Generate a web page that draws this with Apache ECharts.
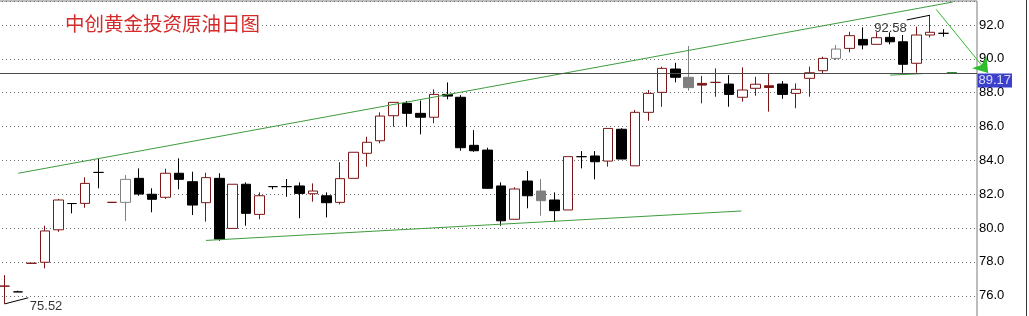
<!DOCTYPE html>
<html><head><meta charset="utf-8">
<script src="https://cdn.jsdelivr.net/npm/echarts/dist/echarts.min.js"></script>
<style>html,body{margin:0;padding:0;background:#fff;}#c{width:1029px;height:316px;}</style>
</head><body><div id="c"></div>
<script>
// ---- data ----
const categories = Array.from({length: 73}, (_, i) => 'D' + (i + 1));
const opens  = [76.57,76.23,77.92,77.98,79.90,81.45,81.46,83.29,81.52,81.52,
                82.94,82.00,81.82,83.24,82.74,81.50,82.94,79.98,82.59,80.81,
                82.45,82.45,82.49,82.03,81.91,81.52,82.94,84.42,85.16,86.64,
                87.37,86.78,86.55,87.90,87.73,84.89,84.61,82.49,80.52,82.78,
                82.19,81.66,81.07,84.22,84.26,83.96,85.84,83.68,86.84,88.02,
                89.40,88.91,88.55,88.61,88.51,87.73,88.26,88.41,88.51,87.96,
                88.85,89.30,90.03,90.62,91.15,90.86,91.27,91.01,89.74,91.41,91.51];
const closes = [76.57,76.23,77.92,79.83,81.66,81.45,82.64,83.29,81.52,82.88,
                82.01,81.70,83.24,82.88,81.36,82.98,79.35,82.59,80.87,81.91,
                82.45,82.45,82.05,82.19,81.50,82.92,84.48,85.07,86.62,87.43,
                86.78,86.55,87.90,87.80,84.75,84.57,82.35,80.43,82.31,81.91,
                81.62,81.03,84.22,84.22,83.92,85.89,84.08,86.84,87.96,89.44,
                88.91,88.30,88.45,88.61,87.90,88.16,88.50,88.31,87.90,88.20,
                89.18,90.03,90.58,91.37,90.82,91.25,91.01,89.68,91.41,91.57,91.51];
const lows   = [75.52,76.23,77.92,77.62,79.78,80.87,81.20,82.35,81.52,80.42,
                81.91,80.93,81.72,82.29,80.77,80.38,79.25,79.98,80.14,80.52,
                82.29,81.85,80.58,81.56,80.63,81.40,82.94,83.63,85.01,85.99,
                85.99,85.54,86.19,87.61,84.57,84.51,82.31,80.14,80.52,81.17,
                80.73,80.38,81.07,83.53,82.88,83.63,84.08,83.68,86.34,87.17,
                88.61,88.12,87.37,87.76,87.17,87.47,87.82,86.88,87.64,87.08,
                87.76,89.15,89.93,90.39,90.56,90.86,90.86,89.18,89.18,91.27,91.31];
const highs  = [77.22,76.30,77.92,80.14,81.72,81.45,83.00,84.08,81.52,83.13,
                83.53,82.35,83.51,84.12,83.33,83.27,83.24,82.59,82.70,82.11,
                82.45,82.90,82.70,82.64,82.11,83.89,84.48,85.40,86.84,87.43,
                87.51,87.53,88.20,88.61,87.86,85.79,84.75,82.70,82.41,83.37,
                82.90,82.11,84.22,84.55,84.55,85.89,85.90,86.98,88.16,89.54,
                89.77,90.76,88.99,89.44,89.04,89.50,88.94,89.15,88.69,88.55,
                89.54,90.13,90.82,91.60,91.86,91.57,91.57,91.41,91.90,92.58,91.75];
// r = dark red, k = black, g = grey
const tones = ('rkrrrkrkrg' + 'kkrkkrkrkr' + 'kkkrkrrrrr' + 'kkrkkkkkrk' +
               'gkrkkrkrrr' + 'kgrrkrrrkr' + 'rrgrkrkkrrk').split('');
const yMin = 74, yMax = 93.42, yStep = 2;
const priceNow = 89.17;
// trend lines [index, price]
const upperTrend   = [[1.01, 83.24], [70.7, 93.36]];
const lowerTrend   = [[15.01, 79.27], [54.93, 81.01]];
const supportGreen = [[66.02, 89.04], [68.5, 89.13]];
const supportPink  = [[68.5, 89.16], [70.25, 89.17]];
const supportDash  = [[70.25, 89.19], [71.0, 89.19]];
const arrowLine    = [[69.45, 92.93], [73.33, 89.16]];
const lowNote  = {from: [0, 75.52], to: [1.76, 75.88], text: '75.52'};
const highNote = {from: [69, 92.58], to: [67.26, 92.30], text: '92.58'};

// ---- styles ----
const toneColor = {r: '#7d1616', k: '#000000', g: '#808080'};
const candleData = opens.map((o, i) => {
  const tone = toneColor[tones[i]];
  const fill = closes[i] > o ? '#ffffff' : tone;
  return {value: [o, closes[i], lows[i], highs[i]],
    itemStyle: {color: fill, color0: fill, borderColor: tone, borderColor0: tone,
                borderColorDoji: tone, borderWidth: 1}};
});
const numFont = 'Liberation Sans';

const chart = echarts.init(document.getElementById('c'), null, {renderer: 'canvas'});
chart.setOption({
  animation: false,
  backgroundColor: '#ffffff',
  title: {
    text: '中创黄金投资原油日图', left: 63, top: 13.5, padding: [0, 2],
    backgroundColor: '#ffffff',
    textStyle: {color: '#d42a2a', fontSize: 19.5, fontWeight: 'normal', fontFamily: 'Noto Sans CJK SC'}
  },
  grid: {left: -2, right: 52, top: 1, bottom: -13.6, containLabel: false, outerBoundsMode: 'none',
         show: true, borderColor: '#7a7a7a', borderWidth: 1, backgroundColor: 'transparent'},
  xAxis: [
    {type: 'category', data: categories, boundaryGap: true, show: false},
    {type: 'value', min: -0.5, max: 72.5, show: false}
  ],
  yAxis: {
    type: 'value', position: 'right', min: yMin, max: yMax, interval: yStep, scale: true,
    axisLine: {show: false}, axisTick: {show: false},
    axisLabel: {show: true, margin: 2, color: '#000', fontSize: 13, fontFamily: numFont,
                padding: [6, 0, 0, 0], showMaxLabel: false, showMinLabel: false,
                formatter: v => v.toFixed(1)},
    splitLine: {show: true, lineStyle: {color: '#6e6e6e', width: 1, type: [1, 3]}}
  },
  graphic: [
    {type: 'line', shape: {x1: 1026.5, y1: 0, x2: 1026.5, y2: 316}, style: {stroke: '#333', lineWidth: 1}}
  ],
  series: [
    {
      type: 'candlestick', xAxisIndex: 0, yAxisIndex: 0, barWidth: 10, data: candleData,
      markLine: {silent: true, symbol: 'none', label: {show: false},
                 lineStyle: {color: '#4d4d4d', width: 1, type: 'solid'},
                 data: [{yAxis: priceNow}]}
    },
    {
      type: 'lines', coordinateSystem: 'cartesian2d', xAxisIndex: 1, yAxisIndex: 0,
      clip: false, silent: true, symbol: 'none', z: 3,
      data: [
        {coords: upperTrend, lineStyle: {color: '#3e9c3e', width: 1, opacity: 1}},
        {coords: lowerTrend, lineStyle: {color: '#3e9c3e', width: 1, opacity: 1}},
        {coords: supportGreen, lineStyle: {color: '#3e9c3e', width: 1, opacity: 1}},
        {coords: supportPink, lineStyle: {color: '#f0b8e0', width: 1, opacity: 1}},
        {coords: supportDash, lineStyle: {color: '#2e8b2e', width: 2, opacity: 1}},
        {coords: [lowNote.from, lowNote.to], lineStyle: {color: '#000', width: 1, opacity: 1}},
        {coords: [highNote.from, highNote.to], lineStyle: {color: '#000', width: 1, opacity: 1}}
      ]
    },
    {
      type: 'lines', coordinateSystem: 'cartesian2d', xAxisIndex: 1, yAxisIndex: 0,
      clip: false, silent: true, symbol: ['none', 'arrow'], symbolSize: 14, z: 4,
      lineStyle: {color: '#2cbc2c', width: 1, opacity: 1},
      data: [{coords: arrowLine}]
    },
    {
      type: 'scatter', xAxisIndex: 1, yAxisIndex: 0, clip: false, silent: true, z: 5,
      symbolSize: 1, itemStyle: {color: 'rgba(0,0,0,0)'},
      label: {show: true, color: '#000', fontSize: 13, fontFamily: numFont, align: 'left', verticalAlign: 'top'},
      data: [
        {value: lowNote.to, label: {formatter: lowNote.text, position: [2, 3]}},
        {value: highNote.to, label: {formatter: highNote.text, position: [-32, 2]}},
        {value: [72.5, priceNow], label: {formatter: priceNow.toFixed(2), position: [1, 1],
          backgroundColor: '#0a10c0', color: '#ffffff', padding: [1, 1, 0, 1]}}
      ]
    }
  ]
});
</script></body></html>
